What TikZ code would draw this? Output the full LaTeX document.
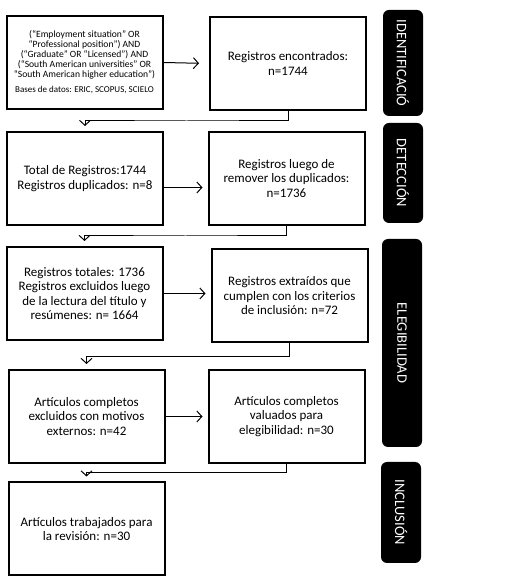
\documentclass[tikz,border=0pt]{standalone}
\usepackage{fontspec}
\setmainfont{Carlito}
\usetikzlibrary{arrows.meta,calc}

\tikzset{
	box/.style={draw, line width=2pt, minimum width=156pt, minimum height=93pt, inner sep=2pt, align=center, font=\fontsize{13}{14.5}\selectfont},
	query/.style={box, font=\fontsize{9.6}{10}\selectfont},
	side/.style={fill=black, rounded corners=6pt, rotate=-90, minimum height=40pt, inner sep=0pt, text=white, font=\fontsize{14.5}{15}\selectfont},
	link/.style={line width=1pt, -{Straight Barb[length=5pt,width=11pt]}, shorten >=5pt}
}

\begin{document}
\begin{tikzpicture}[x=1pt, y=1pt]
	%frame
	\useasboundingbox (0,0) rectangle (521,579);

	%boxes
	\node [query] (b1) at (84.5, 516.5) {(“Employment situation” OR\\“Professional position”) AND\\(“Graduate” OR “Licensed”) AND\\(“South American universities” OR\\“South American higher education”)\\[5pt]{\fontsize{9}{10}\selectfont Bases de datos: ERIC, SCOPUS, SCIELO}};
	\node [box] (b2) at (288, 515.5) {Registros encontrados:\\n=1744};
	\node [box] (b3) at (85, 400.5) {Total de Registros:1744\\Registros duplicados: n=8};
	\node [box] (b4) at (286.5, 400.5) {Registros luego de\\remover los duplicados:\\n=1736};
	\node [box] (b5) at (84.5, 285.5) {Registros totales: 1736\\Registros excluidos luego\\de la lectura del título y\\resúmenes: n= 1664};
	\node [box] (b6) at (289.5, 283) {Registros extraídos que\\cumplen con los criterios\\de inclusión: n=72};
	\node [box] (b7) at (86.5, 162.5) {Artículos completos\\excluidos con motivos\\externos: n=42};
	\node [box] (b8) at (286.5, 162.5) {Artículos completos\\valuados para\\elegibilidad: n=30};
	\node [box] (b9) at (86.5, 50) {Artículos trabajados para\\la revisión: n=30};

	%side labels
	\foreach \name/\x/\y/\len/\txt in {
		s1/403/516/106/IDENTIFICACIÓ,
		s2/403/406/100/DETECCIÓN,
		s3/402/236/208/ELEGIBILIDAD,
		s4/401/66.5/101/INCLUSIÓN
	}\node [side, minimum width=\len pt] (\name) at (\x, \y) {\txt};

	%paths
	\draw [link, shorten >=10pt] (b1.east) -- (b2.west);
	\draw [link] ([yshift=-9pt]b3.east) -- ([yshift=-9pt]b3.east -| b4.west);
	\draw [link] (b5.east) -- (b5.east -| b6.west);
	\draw [link] (b7.east) -- (b8.west);

	\draw [link] (b2.south) |- ($(b2.south)!0.5!(b3.north)$) -| (b3.north);
	\draw [link] (b4.south) |- ($(b4.south)!0.5!(b5.north)$) -| (b5.north);
	\draw [link] (b6.south) |- ($(b6.south)!0.5!(b7.north)$) -| (b7.north);
	\draw [link] (b8.south) |- ($(b8.south)!0.5!(b9.north)$) -| (b9.north);

\end{tikzpicture}
\end{document}
